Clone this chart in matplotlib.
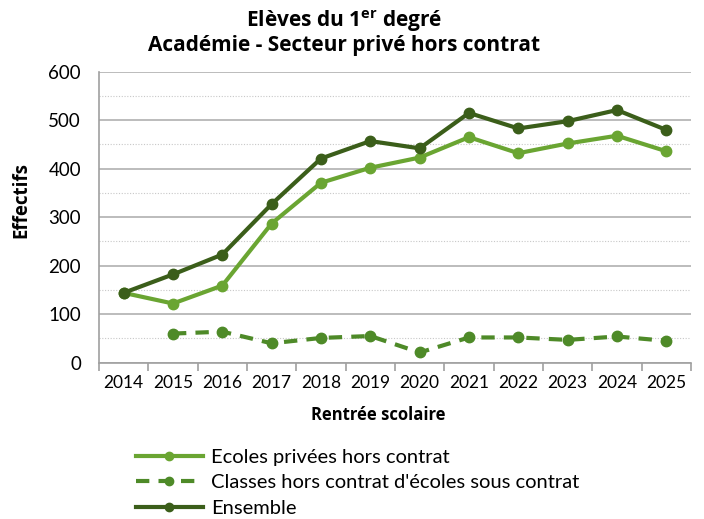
import matplotlib
matplotlib.use("Agg")
import matplotlib.pyplot as plt
from matplotlib.ticker import MultipleLocator, FixedLocator

plt.rcParams['font.family'] = ['Lato', 'DejaVu Sans']
plt.rcParams['mathtext.fontset'] = 'custom'
plt.rcParams['mathtext.rm'] = 'Open Sans:bold'
plt.rcParams['mathtext.bf'] = 'Open Sans:bold'

years = ["2014", "2015", "2016", "2017", "2018", "2019", "2020", "2021", "2022", "2023", "2024", "2025"]
ecoles = [144, 122, 159, 287, 371, 402, 423, 465, 432, 452, 468, 436]
classes = [None, 60, 64, 40, 51, 55, 21, 52, 52, 47, 54, 45]
ensemble = [144, 182, 223, 327, 421, 457, 442, 515, 483, 498, 521, 480]

c_ecoles = "#6aa532"
c_classes = "#4e8a28"
c_ensemble = "#3b5e1a"

fig = plt.figure(figsize=(7.04, 5.19), dpi=100)
ax = fig.add_axes([0.1406, 0.3012, 0.8409, 0.5606])

x = list(range(len(years)))
xc = [i for i, v in zip(x, classes) if v is not None]
vc = [v for v in classes if v is not None]

l1, = ax.plot(x, ecoles, color=c_ecoles, lw=3, marker='o', ms=7.5, label="Ecoles privées hors contrat", zorder=3)
l2, = ax.plot(xc, vc, color=c_classes, lw=3, ls=(0, (3.2, 2.2)), marker='o', ms=7.5,
              label="Classes hors contrat d'écoles sous contrat", zorder=3)
l3, = ax.plot(x, ensemble, color=c_ensemble, lw=3, marker='o', ms=7.5, label="Ensemble", zorder=4)

ax.set_xlim(-0.5, len(years) - 0.5)
ax.set_ylim(0, 600)
ax.yaxis.set_major_locator(MultipleLocator(100))
ax.yaxis.set_minor_locator(MultipleLocator(50))
ax.grid(axis='y', which='major', color='#b0b0b0', lw=1.2)
ax.grid(axis='y', which='minor', color='#c8c8c8', lw=0.8, ls=(0, (1, 1.5)))
ax.set_axisbelow(True)

ax.set_xticks(x)
ax.set_xticklabels(years, fontsize=12.5)
ax.xaxis.set_minor_locator(FixedLocator([i - 0.5 for i in range(len(years) + 1)]))
ax.tick_params(axis='x', which='major', length=0, pad=9)
ax.tick_params(axis='x', which='minor', length=6, color='#a0a0a0', width=1.2)
ax.tick_params(axis='y', which='both', length=0, labelsize=13.5, pad=13)

for s in ['top', 'right']:
    ax.spines[s].set_visible(False)
ax.spines['left'].set_color('#a0a0a0')
ax.spines['left'].set_linewidth(1.2)
ax.spines['bottom'].set_color('#a0a0a0')
ax.spines['bottom'].set_linewidth(1.2)

tfont = ['Open Sans', 'DejaVu Sans']
fig.text(0.489, 0.959, "Elèves du 1$^{\\mathrm{er}}$ degré", ha='center', va='center',
         fontsize=15, fontweight='bold', family=tfont)
fig.text(0.489, 0.913, "Académie - Secteur privé hors contrat", ha='center', va='center',
         fontsize=15, fontweight='bold', family=tfont)
fig.text(0.031, 0.615, "Effectifs", rotation=90, ha='center', va='center',
         fontsize=13.5, fontweight='bold', family=tfont)
fig.text(0.537, 0.2, "Rentrée scolaire", ha='center', va='center',
         fontsize=12, fontweight='bold', family=tfont)

leg = fig.legend(handles=[l1, l2, l3], loc='upper left', bbox_to_anchor=(0.182, 0.151),
                 frameon=False, fontsize=14.5, handlelength=3.3, handletextpad=0.4,
                 labelspacing=0.42, borderaxespad=0)
for h in leg.legend_handles:
    h.set_markersize(6)

fig.savefig("out.png", dpi=100)
